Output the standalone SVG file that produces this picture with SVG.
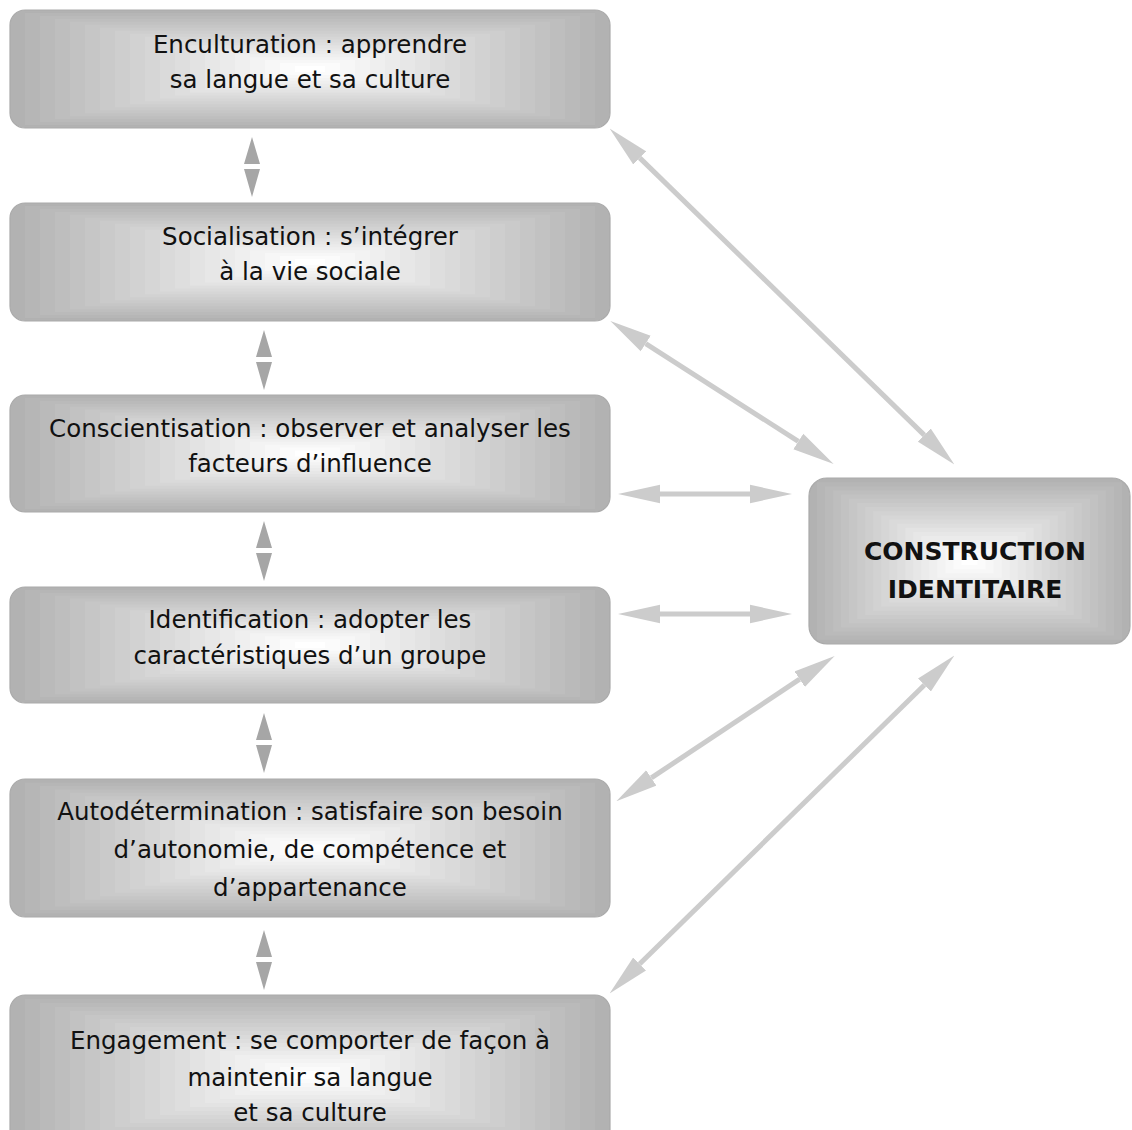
<svg xmlns="http://www.w3.org/2000/svg" xmlns:xlink="http://www.w3.org/1999/xlink" width="1132" height="1130" viewBox="0 0 1132 1130">
<style>
.lbl{font-family:"DejaVu Sans","Noto Sans",sans-serif;font-size:24.5px;fill:#111;text-anchor:middle}
.big{font-family:"DejaVu Sans","Noto Sans",sans-serif;font-size:25px;font-weight:bold;fill:#111;text-anchor:middle}
.edge{fill:none;stroke:#aaaaaa;stroke-width:1.2}
.conn{stroke:#cccccc;stroke-width:5;fill:none;marker-start:url(#ah);marker-end:url(#ah)}
.va{fill:#a6a6a6}
</style>
<defs>
<marker id="ah" markerUnits="userSpaceOnUse" markerWidth="42" markerHeight="20" refX="0" refY="9" orient="auto-start-reverse" viewBox="0 0 41 18">
<path d="M0,0 L41,9 L0,18 Z" fill="#cccccc"/>
</marker>
<symbol id="bevel" viewBox="0 0 100 100" preserveAspectRatio="none">
<rect x="0" y="0" width="100" height="100" fill="#b2b2b2"/>
<rect x="2.5" y="2.5" width="95" height="95" fill="#b6b6b6"/>
<rect x="5" y="5" width="90" height="90" fill="#bababa"/>
<rect x="7.5" y="7.5" width="85" height="85" fill="#bebebe"/>
<rect x="10" y="10" width="80" height="80" fill="#c2c2c2"/>
<rect x="12.5" y="12.5" width="75" height="75" fill="#c6c6c6"/>
<rect x="15" y="15" width="70" height="70" fill="#cacaca"/>
<rect x="17.5" y="17.5" width="65" height="65" fill="#cecece"/>
<rect x="20" y="20" width="60" height="60" fill="#d2d2d2"/>
<rect x="22.5" y="22.5" width="55" height="55" fill="#d6d6d6"/>
<rect x="25" y="25" width="50" height="50" fill="#dadada"/>
<rect x="27.5" y="27.5" width="45" height="45" fill="#dedede"/>
<rect x="30" y="30" width="40" height="40" fill="#e3e3e3"/>
<rect x="32.5" y="32.5" width="35" height="35" fill="#e7e7e7"/>
<rect x="35" y="35" width="30" height="30" fill="#ebebeb"/>
<rect x="37.5" y="37.5" width="25" height="25" fill="#efefef"/>
<rect x="40" y="40" width="20" height="20" fill="#f3f3f3"/>
<rect x="42.5" y="42.5" width="15" height="15" fill="#f7f7f7"/>
<rect x="45" y="45" width="10" height="10" fill="#fbfbfb"/>
<rect x="47.5" y="47.5" width="5" height="5" fill="#ffffff"/>
</symbol>
<clipPath id="c1"><rect x="10" y="10" width="600" height="118" rx="15"/></clipPath>
<clipPath id="c2"><rect x="10" y="203" width="600" height="118" rx="15"/></clipPath>
<clipPath id="c3"><rect x="10" y="395" width="600" height="117" rx="15"/></clipPath>
<clipPath id="c4"><rect x="10" y="587" width="600" height="116" rx="15"/></clipPath>
<clipPath id="c5"><rect x="10" y="779" width="600" height="138" rx="15"/></clipPath>
<clipPath id="c6"><rect x="10" y="995" width="600" height="160" rx="15"/></clipPath>
<clipPath id="c7"><rect x="809" y="478" width="321" height="166" rx="18"/></clipPath>
</defs>

<g id="connectors">
<path class="conn" d="M639.7,157.9 L924.3,435.1"/>
<path class="conn" d="M645.7,343.6 L798.3,441.4"/>
<path class="conn" d="M660,494 L750,494"/>
<path class="conn" d="M660,614 L750,614"/>
<path class="conn" d="M651.3,777.9 L799.7,679.2"/>
<path class="conn" d="M639.6,964 L924.4,685"/>
<g id="vertical-arrows">
<path class="va" d="M252,137 L260,164 L244,164 Z M244,169 L260,169 L252,197 Z"/>
<path class="va" d="M264,330 L272,357 L256,357 Z M256,362 L272,362 L264,390 Z"/>
<path class="va" d="M264,521 L272,548 L256,548 Z M256,553 L272,553 L264,581 Z"/>
<path class="va" d="M264,713 L272,740 L256,740 Z M256,745 L272,745 L264,773 Z"/>
<path class="va" d="M264,930 L272,957 L256,957 Z M256,962 L272,962 L264,990 Z"/>
</g>
</g>

<g id="n1">
<g clip-path="url(#c1)"><use href="#bevel" x="10" y="10" width="600" height="118"/></g>
<rect class="edge" x="10" y="10" width="600" height="118" rx="15"/>
<text class="lbl" x="310" y="53">Enculturation : apprendre</text>
<text class="lbl" x="310" y="88">sa langue et sa culture</text>
</g>
<g id="n2">
<g clip-path="url(#c2)"><use href="#bevel" x="10" y="203" width="600" height="118"/></g>
<rect class="edge" x="10" y="203" width="600" height="118" rx="15"/>
<text class="lbl" x="310" y="245">Socialisation : s’intégrer</text>
<text class="lbl" x="310" y="280">à la vie sociale</text>
</g>
<g id="n3">
<g clip-path="url(#c3)"><use href="#bevel" x="10" y="395" width="600" height="117"/></g>
<rect class="edge" x="10" y="395" width="600" height="117" rx="15"/>
<text class="lbl" x="310" y="437">Conscientisation : observer et analyser les</text>
<text class="lbl" x="310" y="472">facteurs d’influence</text>
</g>
<g id="n4">
<g clip-path="url(#c4)"><use href="#bevel" x="10" y="587" width="600" height="116"/></g>
<rect class="edge" x="10" y="587" width="600" height="116" rx="15"/>
<text class="lbl" x="310" y="628">Identification : adopter les</text>
<text class="lbl" x="310" y="664">caractéristiques d’un groupe</text>
</g>
<g id="n5">
<g clip-path="url(#c5)"><use href="#bevel" x="10" y="779" width="600" height="138"/></g>
<rect class="edge" x="10" y="779" width="600" height="138" rx="15"/>
<text class="lbl" x="310" y="820">Autodétermination : satisfaire son besoin</text>
<text class="lbl" x="310" y="858">d’autonomie, de compétence et</text>
<text class="lbl" x="310" y="896">d’appartenance</text>
</g>
<g id="n6">
<g clip-path="url(#c6)"><use href="#bevel" x="10" y="995" width="600" height="160"/></g>
<rect class="edge" x="10" y="995" width="600" height="160" rx="15"/>
<text class="lbl" x="310" y="1049">Engagement : se comporter de façon à</text>
<text class="lbl" x="310" y="1086">maintenir sa langue</text>
<text class="lbl" x="310" y="1121">et sa culture</text>
</g>
<g id="n7">
<g clip-path="url(#c7)"><use href="#bevel" x="809" y="478" width="321" height="166"/></g>
<rect class="edge" x="809" y="478" width="321" height="166" rx="18"/>
<text class="big" x="975" y="560">CONSTRUCTION</text>
<text class="big" x="975" y="598">IDENTITAIRE</text>
</g>
</svg>
